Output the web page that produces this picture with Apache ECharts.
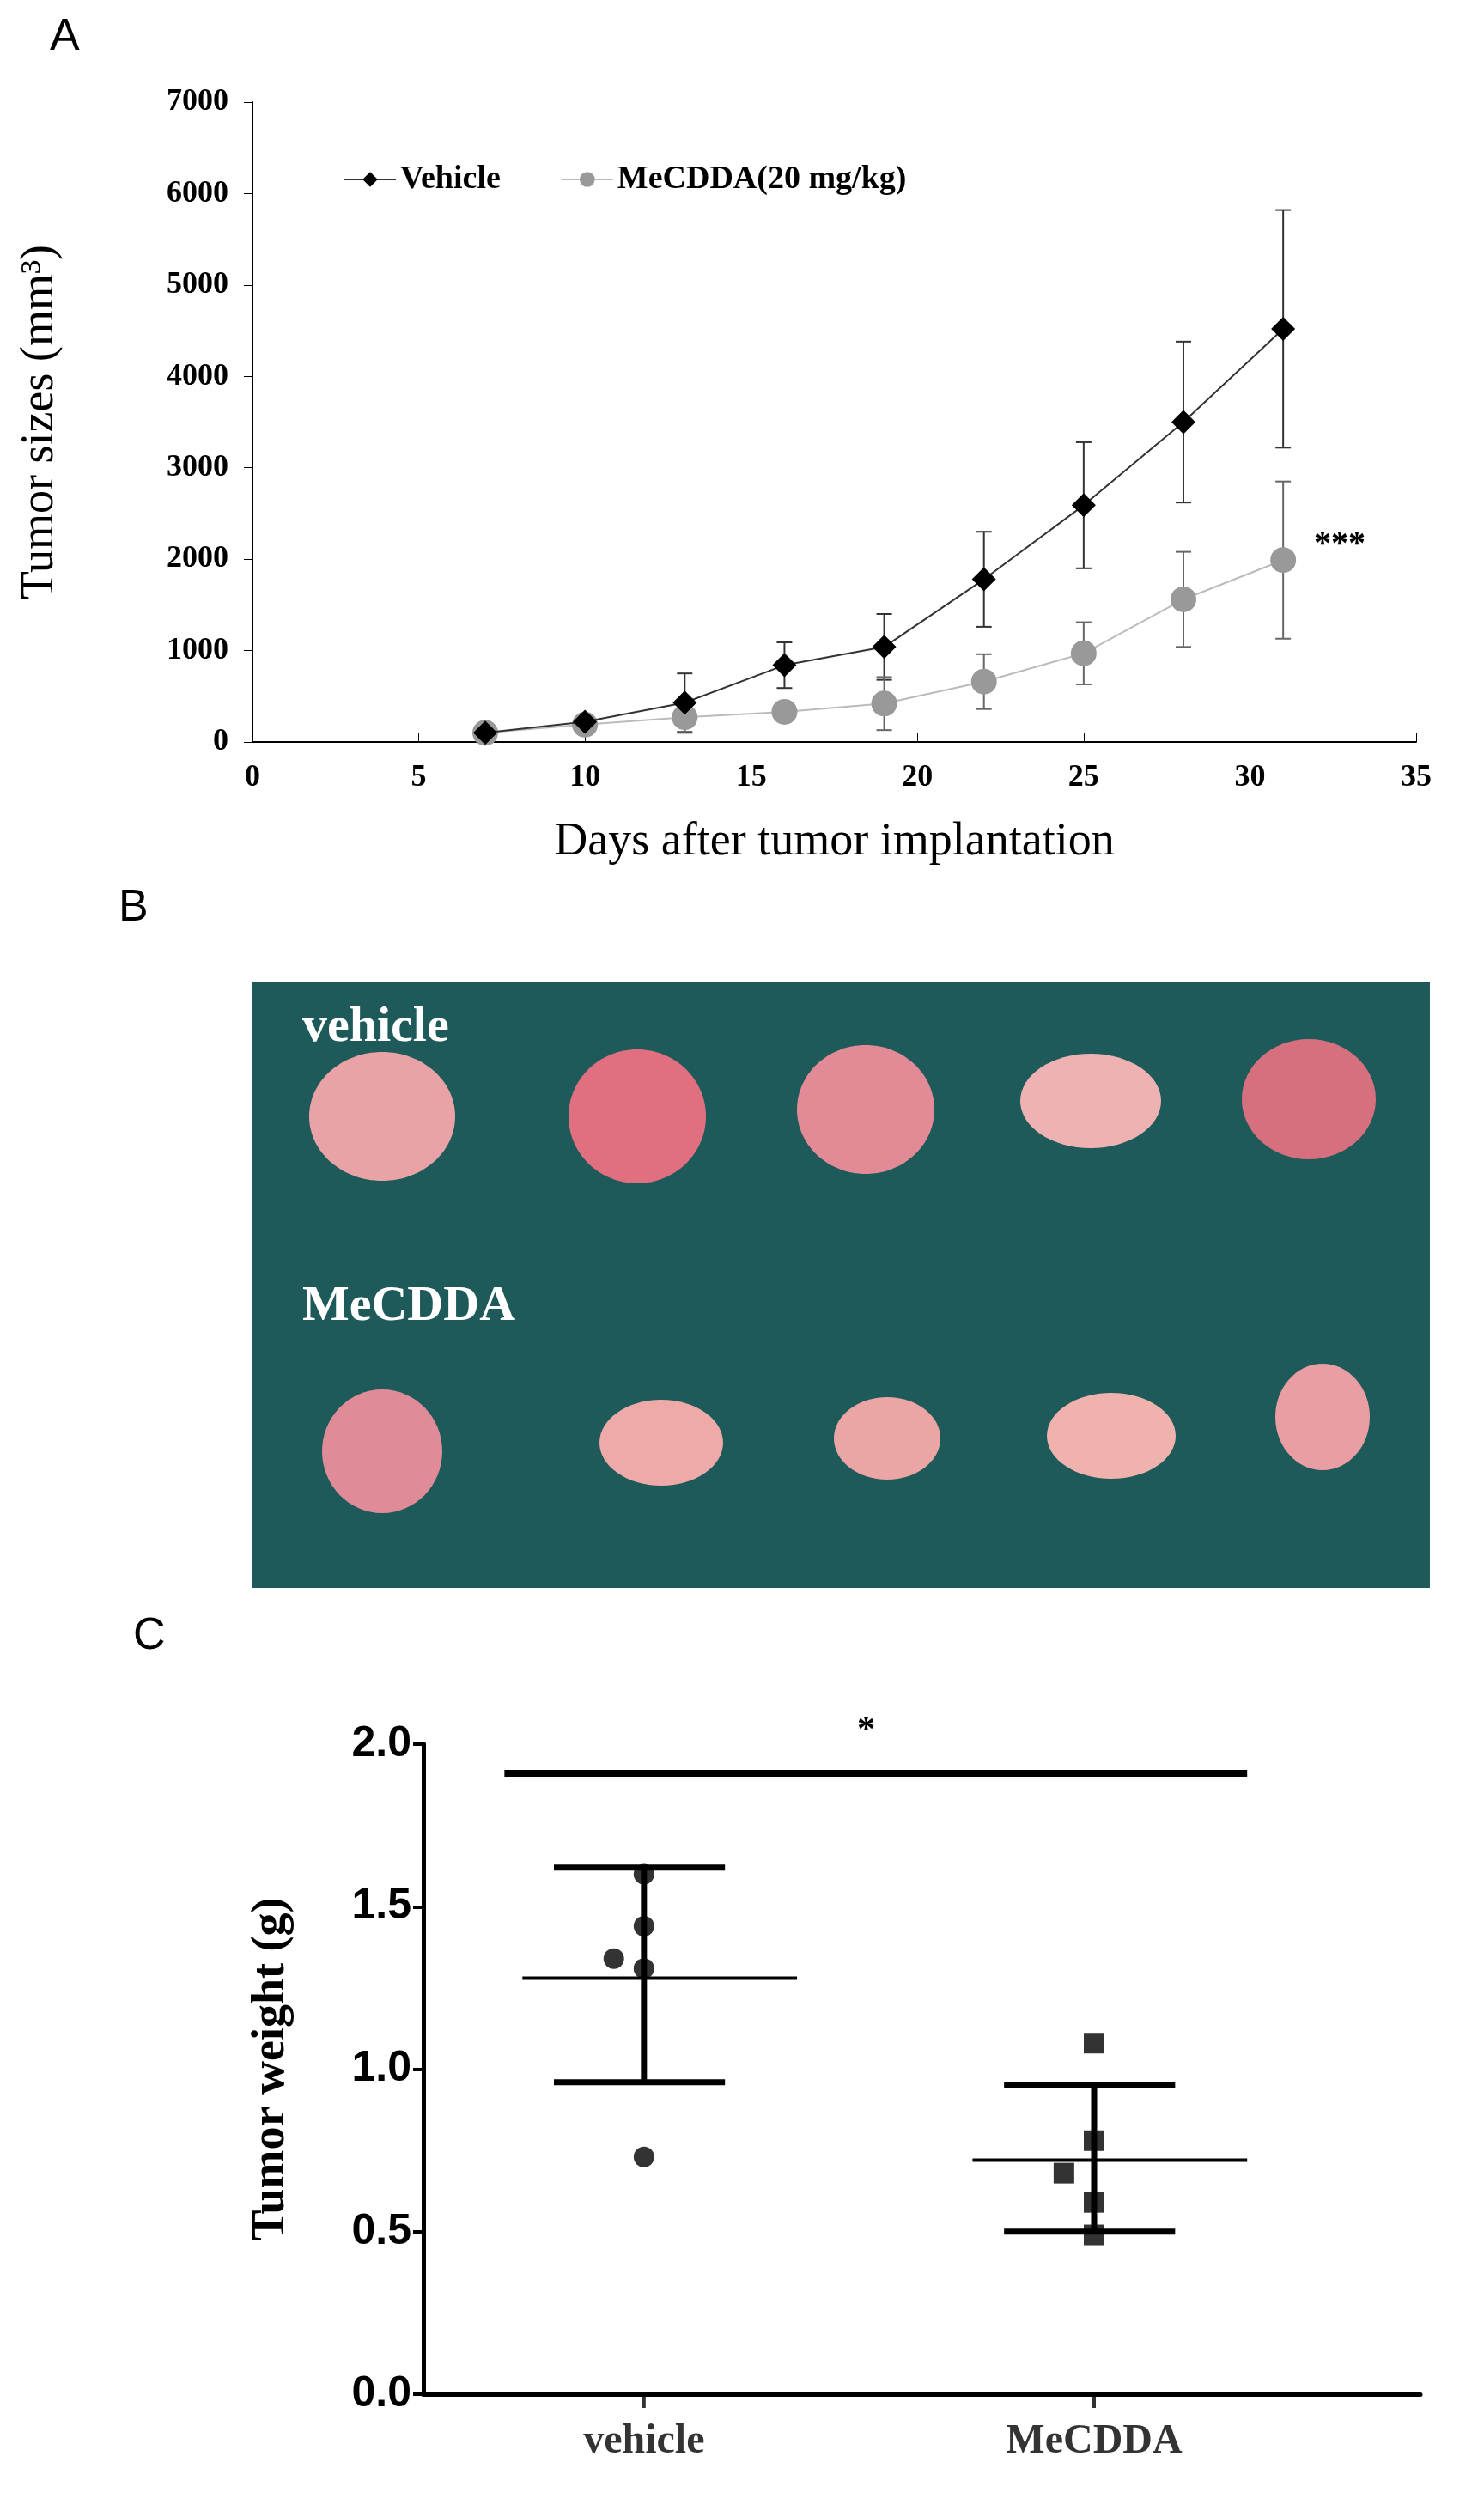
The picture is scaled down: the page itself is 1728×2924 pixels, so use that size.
<!DOCTYPE html>
<html><head><meta charset="utf-8">
<script src="https://cdn.jsdelivr.net/npm/echarts@6/dist/echarts.min.js"></script>
<style>body{margin:0;background:#fff}#c{width:1728px;height:2924px}</style></head>
<body><div id="c"></div>
<script>
const days=[7,10,13,16,19,22,25,28,31];
const vehicleMean=[100,220,430,840,1040,1780,2590,3500,4520];
const vehicleSD=[20,80,320,250,360,520,690,880,1300];
const mecddaMean=[100,190,270,330,420,660,970,1560,1990];
const mecddaSD=[20,60,170,60,290,300,340,520,860];
const groupNames=['vehicle','MeCDDA'];
const vehicleWeights=[1.60,1.44,1.34,1.31,0.73];
const mecddaWeights=[1.08,0.78,0.68,0.59,0.49];
const jitter=[0,0,-0.067,0,0];
const groupMean=[1.28,0.72];
const groupSDlo=[0.96,0.50];
const groupSDhi=[1.62,0.95];

const serif='Liberation Serif', sans='Liberation Sans';
function errSeries(mean,sd,color){
  return {type:'custom',xAxisIndex:0,yAxisIndex:0,silent:true,z:1,
    data:days.map((d,i)=>[d,mean[i]-sd[i],mean[i]+sd[i]]),
    renderItem:(p,api)=>{const lo=api.coord([api.value(0),api.value(1)]),hi=api.coord([api.value(0),api.value(2)]);
      const w=9;return {type:'group',children:[
      {type:'line',shape:{x1:lo[0],y1:lo[1],x2:hi[0],y2:hi[1]},style:{stroke:color,lineWidth:2}},
      {type:'line',shape:{x1:lo[0]-w,y1:lo[1],x2:lo[0]+w,y2:lo[1]},style:{stroke:color,lineWidth:2}},
      {type:'line',shape:{x1:hi[0]-w,y1:hi[1],x2:hi[0]+w,y2:hi[1]},style:{stroke:color,lineWidth:2}}]};}};
}
function hline(x1,x2,y,lw){return {type:'line',xAxisIndex:1,yAxisIndex:1,silent:true,symbol:'none',
  lineStyle:{color:'#000',width:lw},data:[[x1,y],[x2,y]],z:3};}

const photo=[];
photo.push({type:'rect',shape:{x:294,y:1143,width:1371,height:706},style:{fill:'#1f5a5a'}});
[[445,1300,85,75,'#e9a2a5'],[742,1300,80,78,'#e06f80'],[1008,1292,80,75,'#e28a95'],[1270,1282,82,55,'#efb2b2'],[1524,1280,78,70,'#d7707e'],
 [445,1690,70,72,'#e08c98'],[770,1680,72,50,'#eeaaa8'],[1033,1675,62,48,'#eba5a5'],[1294,1672,75,50,'#efb2ad'],[1540,1650,55,62,'#e99ea3']]
 .forEach(e=>photo.push({type:'ellipse',shape:{cx:e[0],cy:e[1],rx:e[2],ry:e[3]},style:{fill:e[4]}}));
photo.push({type:'text',left:352,top:1168,style:{text:'vehicle',fill:'#fff',font:'bold 58px "Liberation Serif"'}});
photo.push({type:'text',left:352,top:1493,style:{text:'MeCDDA',fill:'#fff',font:'bold 58px "Liberation Serif"'}});

const opt={animation:false,backgroundColor:'#fff',
 graphic:[
  {type:'text',left:58,top:18,style:{text:'A',fill:'#000',font:'52px "Liberation Sans"'}},
  {type:'text',left:138,top:1032,style:{text:'B',fill:'#000',font:'52px "Liberation Sans"'}},
  {type:'text',left:155,top:1880,style:{text:'C',fill:'#000',font:'52px "Liberation Sans"'}},
  {type:'text',left:1530,top:615,style:{text:'***',fill:'#000',font:'bold 40px "Liberation Serif"'}},
  {type:'text',left:998,top:1995,style:{text:'*',fill:'#000',font:'bold 42px "Liberation Serif"'}},
  ...photo],
 legend:{left:395,top:185,itemGap:70,itemWidth:60,itemHeight:22,textStyle:{fontFamily:serif,fontWeight:'bold',fontSize:38,color:'#000'},
   data:['Vehicle','MeCDDA(20 mg/kg)']},
 grid:[{left:294,top:119,width:1355,height:745},{left:493,top:2031,width:1161,height:757}],
 xAxis:[
  {type:'value',gridIndex:0,min:0,max:35,interval:5,name:'Days after tumor implantation',nameLocation:'middle',nameGap:90,
   nameTextStyle:{fontFamily:serif,fontSize:54,color:'#000'},
   axisLine:{lineStyle:{color:'#000',width:2}},axisTick:{inside:true,length:10,lineStyle:{color:'#000'}},splitLine:{show:false},
   axisLabel:{margin:24,fontFamily:serif,fontWeight:'bold',fontSize:36,color:'#000'}},
  {type:'value',gridIndex:1,min:-0.49,max:1.725,axisLabel:{show:false},axisTick:{show:false},splitLine:{show:false},
   axisLine:{onZero:false,lineStyle:{color:'#000',width:5}}}],
 yAxis:[
  {type:'value',gridIndex:0,min:0,max:7000,interval:1000,name:'Tumor sizes (mm³)',nameLocation:'middle',nameGap:220,
   nameTextStyle:{fontFamily:serif,fontSize:54,color:'#000'},
   axisLine:{show:true,onZero:false,lineStyle:{color:'#000',width:2}},axisTick:{show:true,length:10,lineStyle:{color:'#000'}},splitLine:{show:false},
   axisLabel:{margin:28,fontFamily:serif,fontWeight:'bold',fontSize:36,color:'#000',formatter:v=>String(v)}},
  {type:'value',gridIndex:1,min:0,max:2,interval:0.5,name:'Tumor weight (g)',nameLocation:'middle',nameGap:150,
   nameTextStyle:{fontFamily:serif,fontWeight:'bold',fontSize:54,color:'#000'},
   axisLine:{show:true,onZero:false,lineStyle:{color:'#000',width:5}},axisTick:{show:true,length:12,lineStyle:{color:'#000',width:4}},splitLine:{show:false},
   axisLabel:{margin:14,fontFamily:sans,fontWeight:'bold',fontSize:50,color:'#000',formatter:v=>v.toFixed(1)}}],
 series:[
  errSeries(vehicleMean,vehicleSD,'#333'),
  errSeries(mecddaMean,mecddaSD,'#666'),
  {name:'Vehicle',type:'line',xAxisIndex:0,yAxisIndex:0,data:days.map((d,i)=>[d,vehicleMean[i]]),symbol:'diamond',symbolSize:28,
   lineStyle:{color:'#333',width:2},itemStyle:{color:'#000'},z:3},
  {name:'MeCDDA(20 mg/kg)',type:'line',xAxisIndex:0,yAxisIndex:0,data:days.map((d,i)=>[d,mecddaMean[i]]),symbol:'circle',symbolSize:30,
   lineStyle:{color:'#bbb',width:2},itemStyle:{color:'#999'},z:2},
  {type:'scatter',xAxisIndex:1,yAxisIndex:1,symbol:'circle',symbolSize:24,itemStyle:{color:'#000'},data:vehicleWeights.map((v,i)=>[jitter[i],v]),z:4},
  {type:'scatter',xAxisIndex:1,yAxisIndex:1,symbol:'rect',symbolSize:24,itemStyle:{color:'#000'},data:mecddaWeights.map((v,i)=>[1+jitter[i],v]),z:4},
  hline(-0.27,0.34,groupMean[0],4),hline(-0.2,0.18,groupSDlo[0],7),hline(-0.2,0.18,groupSDhi[0],7),
  hline(0.73,1.34,groupMean[1],4),hline(0.8,1.18,groupSDlo[1],7),hline(0.8,1.18,groupSDhi[1],7),
  {type:'line',xAxisIndex:1,yAxisIndex:1,silent:true,symbol:'none',lineStyle:{color:'#000',width:7},data:[[0,groupSDlo[0]],[0,groupSDhi[0]]]},
  {type:'line',xAxisIndex:1,yAxisIndex:1,silent:true,symbol:'none',lineStyle:{color:'#000',width:7},data:[[1,groupSDlo[1]],[1,groupSDhi[1]]]},
  hline(-0.31,1.34,1.91,8),
  {type:'scatter',xAxisIndex:1,yAxisIndex:1,silent:true,symbol:'rect',symbolSize:[4,14],symbolOffset:[0,9],itemStyle:{color:'#000'},
   data:groupNames.map((n,i)=>({value:[i,0],name:n})),
   label:{show:true,position:'bottom',distance:16,formatter:p=>p.name,fontFamily:serif,fontWeight:'bold',fontSize:48,color:'#000'}}
 ]};
echarts.init(document.getElementById('c')).setOption(opt);
</script></body></html>
